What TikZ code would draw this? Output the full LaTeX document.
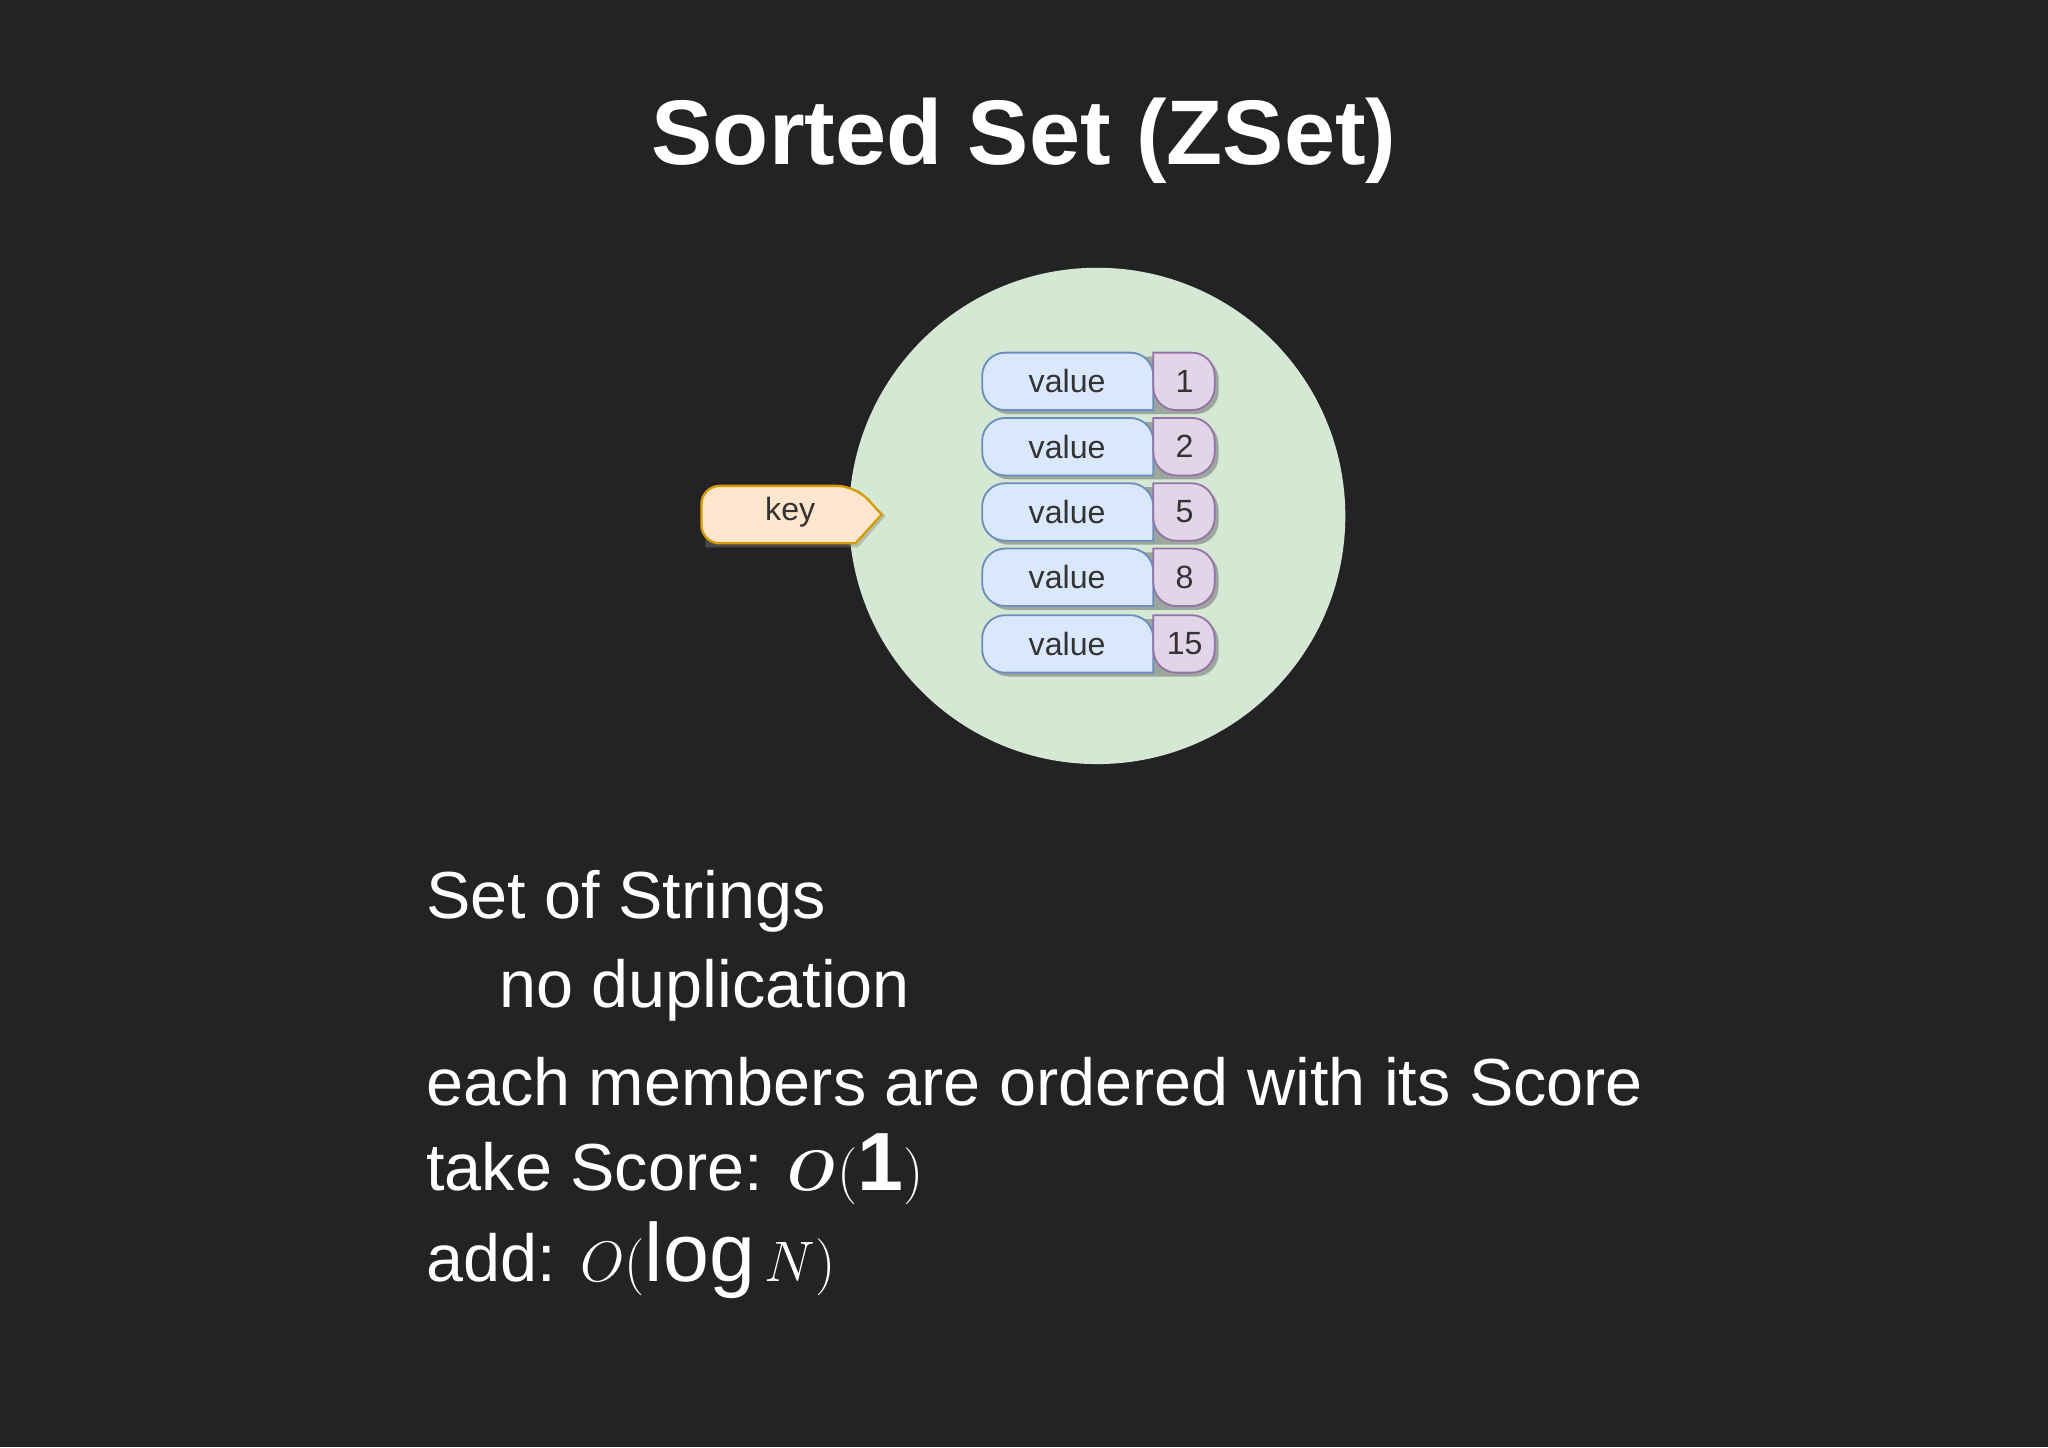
\documentclass[tikz,border=0pt]{standalone}
\usepackage{fontspec}
\usepackage{amsmath}
\setmainfont{Liberation Sans}
\usetikzlibrary{shapes.symbols,shadows}
\definecolor{bg}{HTML}{232325}
\definecolor{cfill}{HTML}{D5E8D4}
\definecolor{cline}{HTML}{82B366}
\definecolor{vfill}{HTML}{DAE8FC}
\definecolor{vline}{HTML}{6C8EBF}
\definecolor{sfill}{HTML}{E1D5E7}
\definecolor{sline}{HTML}{9673A6}
\definecolor{kfill}{HTML}{FFE6CC}
\definecolor{kline}{HTML}{D79B00}
\tikzset{
  small/.style={font=\fontsize{14}{16}\selectfont, text=black!80},
  body/.style={font=\fontsize{29}{34}\selectfont, text=white, anchor=west, inner sep=0pt},
}
\begin{document}
\begin{tikzpicture}[x=0.02cm,y=-0.02cm]
\fill[bg] (0,0) rectangle (1568,1108);
\useasboundingbox (0,0) rectangle (1568,1108);
\node[font=\fontsize{40}{46}\selectfont\bfseries, text=white] (title) at (784,108) {Sorted Set (ZSet)};
\fill[cfill] (840,395) circle (190);
\node[circle, minimum size=0pt, inner sep=0pt] (set) at (840,395) {};
% key
\fill[black!50, opacity=.4] (540,375) -- (657,375) -- (678,395) -- (657,419) -- (540,419) [rounded corners=8] -- cycle;
\draw[kline, fill=kfill, rounded corners=8, line width=1pt] (537,416) -- (537,372) -- (655,372) [sharp corners] -- (675,394) -- (655,416) [rounded corners=8] -- cycle;
\node[small] (key) at (605,392) {key};
\foreach \y/\s [count=\i] in {292/1,342/2,392/5,442/8,493/15}{
  \fill[black!60, opacity=.5, rounded corners=10] (755,\y-19) rectangle (933,\y+25);
  \draw[vline, fill=vfill, line width=.8pt, rounded corners=10] (883,\y+22) -- (752,\y+22) -- (752,\y-22) -- (883,\y-22) [sharp corners] -- cycle;
  \draw[sline, fill=sfill, line width=.8pt, rounded corners=10] (883,\y-22) -- (930,\y-22) -- (930,\y+22) -- (883,\y+22) [sharp corners] -- cycle;
  \node[small] (v\i) at (817,\y) {value};
  \node[small] (s\i) at (907,\y) {\s};
}
\node[body] (l1) at (326,690) {Set of Strings};
\node[body] (l2) at (382,758) {no duplication};
\node[body] (l3) at (326,828) {each members are ordered with its Score};
\node[body] (l4) at (326,895) {take Score: \fontsize{36}{40}\selectfont$\boldsymbol{O}(\mathbf{1})$};
\node[body] (l5) at (326,965) {add: \fontsize{36}{40}\selectfont$O(\log N)$};
\end{tikzpicture}
\end{document}
